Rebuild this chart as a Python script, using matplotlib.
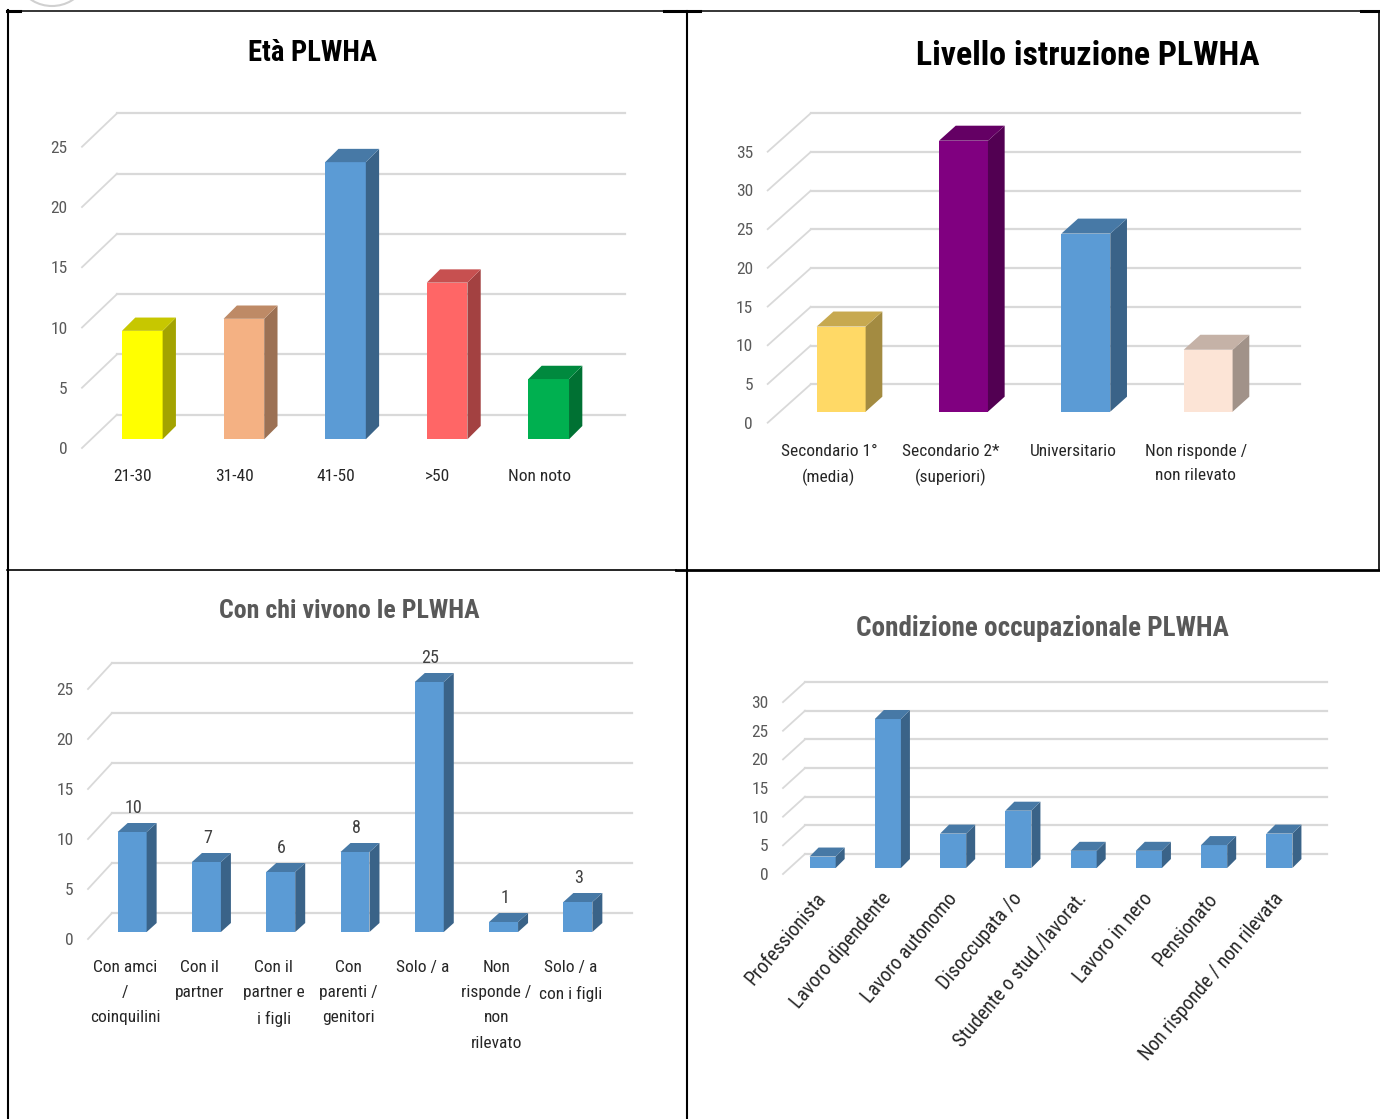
import numpy as np
import matplotlib
matplotlib.use("Agg")
import matplotlib.pyplot as plt
from matplotlib.patches import Polygon, Arc
from matplotlib.lines import Line2D
from matplotlib import colors as mcolors

# ---------------- data ----------------
eta_labels = ["21-30", "31-40", "41-50", ">50", "Non noto"]
eta_values = [9, 10, 23, 13, 5]
eta_colors = ["#FFFF00", "#F4B183", "#5B9BD5", "#FF6666", "#00B050"]

istr_labels = ["Secondario 1°\n(media)", "Secondario 2*\n(superiori)",
               "Universitario", "Non risponde /\nnon rilevato"]
istr_values = [11, 35, 23, 8]
istr_colors = ["#FFD966", "#800080", "#5B9BD5", "#FCE4D6"]

vivono_labels = ["Con amci\n/\ncoinquilini", "Con il\npartner", "Con il\npartner e\ni figli",
                 "Con\nparenti /\ngenitori", "Solo / a", "Non\nrisponde /\nnon\nrilevato",
                 "Solo / a\ncon i figli"]
vivono_values = [10, 7, 6, 8, 25, 1, 3]

occup_labels = ["Professionista", "Lavoro dipendente", "Lavoro autonomo", "Disoccupata /o",
                "Studente o stud./lavorat.", "Lavoro in nero", "Pensionato",
                "Non risponde / non rilevata"]
occup_values = [2, 26, 6, 10, 3, 3, 4, 6]

BLUE = "#5B9BD5"
plt.rcParams["font.family"] = ["Roboto Condensed", "Liberation Sans Narrow",
                               "Noto Sans", "DejaVu Sans"]
plt.rcParams["font.stretch"] = "condensed"

W, H = 1380, 1119
fig = plt.figure(figsize=(W / 100, H / 100), dpi=100)
fig.patch.set_facecolor("white")


def shade(c, f):
    r, g, b = mcolors.to_rgb(c)
    return (r * f, g * f, b * f)


def fx(x):
    return x / W


def fy(y):
    return 1 - y / H


def panel3d(xL, xR, y0, sy, ymax, step, wall, off, depth, bw, labels, values, colors,
            tick_fs=12.5, xlab_fs=12.5, xlab_pad=14, rotate=None, value_labels=False,
            linespacing=1.8):
    n = len(values)
    cx = (xR - xL) / n                      # pixels per category
    ax = fig.add_axes([fx(xL), fy(y0), (xR - xL) / W, ymax * sy / H])
    ax.set_xlim(-0.5, n - 0.5)
    ax.set_ylim(0, ymax)
    ax.patch.set_alpha(0)
    for s in ax.spines.values():
        s.set_visible(False)

    wx, wy = wall[0] / cx, wall[1] / sy
    ox, oy = off[0] / cx, off[1] / sy
    dx, dy = depth[0] / cx, depth[1] / sy

    ticks = np.arange(0, ymax + 0.1, step)
    grid_c = "#D9D9D9"
    for v in ticks:
        ax.add_line(Line2D([-0.5 + wx, n - 0.5 + wx], [v + wy, v + wy], color=grid_c,
                           lw=1.6, zorder=1, clip_on=False))
        ax.add_line(Line2D([-0.5, -0.5 + wx], [v, v + wy], color=grid_c,
                           lw=1.3, zorder=1, clip_on=False))

    xs = np.arange(n) + ox
    bars = ax.bar(xs, values, width=bw, bottom=oy, color=colors, linewidth=0, zorder=3)
    for b, v, c in zip(bars, values, colors):
        b.set_clip_on(False)
        x0 = b.get_x()
        x1 = x0 + bw
        top = oy + v
        side = Polygon([(x1, oy), (x1 + dx, oy + dy), (x1 + dx, top + dy), (x1, top)],
                       closed=True, facecolor=shade(c, 0.64), edgecolor="none",
                       zorder=3, clip_on=False)
        lid = Polygon([(x0, top), (x1, top), (x1 + dx, top + dy), (x0 + dx, top + dy)],
                      closed=True, facecolor=shade(c, 0.78), edgecolor="none",
                      zorder=3, clip_on=False)
        ax.add_patch(side)
        ax.add_patch(lid)
        if value_labels:
            ax.annotate(f"{v}", (b.get_x() + bw / 2, top + dy), xytext=(1, 15),
                        textcoords="offset pixels", ha="center", va="center",
                        fontsize=tick_fs + 0.5, color="#404040", zorder=5,
                        annotation_clip=False)

    ax.set_yticks(ticks)
    ax.set_yticklabels([f"{int(t)}" for t in ticks])
    ax.tick_params(axis="y", length=0, pad=10.5, labelsize=tick_fs, labelcolor="#595959")
    ax.set_xticks(np.arange(n))
    ax.set_xticklabels(labels)
    ax.tick_params(axis="x", length=0, pad=xlab_pad, labelsize=xlab_fs, labelcolor="#262626")
    for t in ax.get_xticklabels():
        t.set_linespacing(linespacing)
        if rotate is not None:
            t.set_rotation(rotate)
            t.set_ha("right")
            t.set_rotation_mode("anchor")
    return ax


# Età PLWHA
panel3d(82, 590, 448, 12.05, 25, 5, wall=(35, 33.4), off=(9.5, 8.7), depth=(13.3, 13.3),
        bw=0.40, labels=eta_labels, values=eta_values, colors=eta_colors, xlab_pad=15)
fig.text(fx(313), fy(53), "Età PLWHA", ha="center", va="center", fontsize=20.6,
         fontweight="bold", color="#000000")

# Livello istruzione PLWHA
panel3d(767.7, 1257, 422.7, 7.743, 35, 5, wall=(43, 38.4), off=(12.3, 11),
        depth=(16.7, 15), bw=0.40, labels=istr_labels, values=istr_values,
        colors=istr_colors, xlab_pad=15, linespacing=1.75)
fig.text(fx(1088), fy(56), "Livello istruzione PLWHA", ha="center", va="center",
         fontsize=24.4, fontweight="bold", color="#000000")

# Con chi vivono le PLWHA
panel3d(88, 608, 939, 10.0, 25, 5, wall=(24, 26), off=(7, 7), depth=(10, 9), bw=0.39,
        labels=vivono_labels, values=vivono_values, colors=[BLUE] * 7, xlab_pad=15,
        value_labels=True, linespacing=1.86)
fig.text(fx(349), fy(611), "Con chi vivono le PLWHA", ha="center", va="center",
         fontsize=18.6, fontweight="bold", color="#595959")

# Condizione occupazionale PLWHA
panel3d(783, 1305, 874, 5.73, 30, 5, wall=(22, 20), off=(7, 6), depth=(9, 9), bw=0.40,
        labels=occup_labels, values=occup_values, colors=[BLUE] * 8, xlab_pad=11,
        xlab_fs=14.3, rotate=50)
fig.text(fx(1042), fy(629), "Condizione occupazionale PLWHA", ha="center", va="center",
         fontsize=19.5, fontweight="bold", color="#595959")

# table borders around the four panels
def hline(x0, x1, y, lw):
    fig.add_artist(Line2D([fx(x0), fx(x1)], [fy(y), fy(y)], color="black", lw=lw,
                          transform=fig.transFigure))


def vline(x, y0, y1, lw):
    fig.add_artist(Line2D([fx(x), fx(x)], [fy(y0), fy(y1)], color="black", lw=lw,
                          transform=fig.transFigure))


hline(7, 1380, 10.7, 1.1)
hline(7, 20, 11, 2.2)
hline(664, 700, 11, 2.2)
hline(1361, 1380, 11, 2.2)
vline(7.5, 10, 1119, 1.5)
vline(687.3, 11, 1119, 1.5)
vline(1379, 11, 570, 1.2)
hline(7, 676, 570, 1.2)
hline(676, 1380, 570, 2.0)

# faint logo edge peeking in at the top-left corner
fig.add_artist(Arc((fx(52), fy(-22)), 66 / W, 56 / H, theta1=200, theta2=340,
                   color="#D0D0D0", lw=1.5, transform=fig.transFigure))

fig.savefig("out.png", dpi=100, facecolor="white")
